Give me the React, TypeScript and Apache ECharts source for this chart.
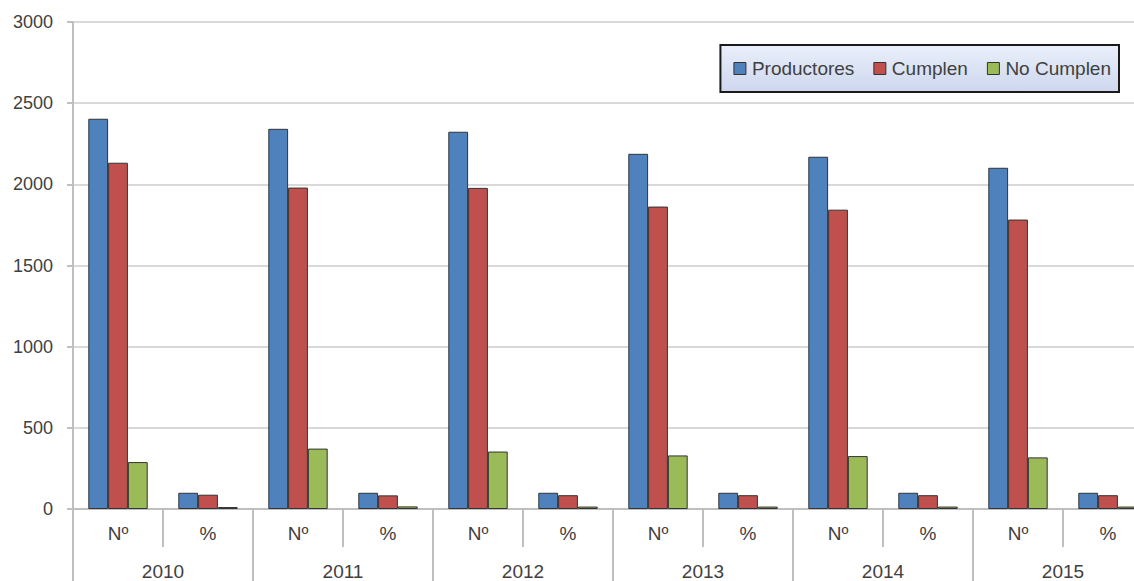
import React, { useEffect, useRef } from "react";
import * as echarts from "echarts";

const categories = ["Nº", "%", "Nº", "%", "Nº", "%", "Nº", "%", "Nº", "%", "Nº", "%"];
const years = ["2010", "2011", "2012", "2013", "2014", "2015"];
const productores = [2404, 100, 2342, 100, 2324, 100, 2188, 100, 2170, 100, 2102, 100];
const cumplen = [2133, 88, 1980, 84, 1978, 85, 1863, 85, 1844, 85, 1783, 85];
const noCumplen = [289, 12, 372, 16, 354, 15, 330, 15, 326, 15, 318, 15];
const yTicks = { min: 0, max: 3000, interval: 500 };

const FONT = "'Liberation Sans', Arial, sans-serif";
const GREY = "#bfbfbf";
const TXT = "#404040";

export default function App() {
  const ref = useRef<HTMLDivElement>(null);
  useEffect(() => {
    if (!ref.current) return;
    const chart = echarts.init(ref.current, undefined, { renderer: "svg" });
    const mk = (name: string, data: number[], color: string) => ({
      name,
      type: "bar",
      data,
      xAxisIndex: 0,
      barGap: "0%",
      barCategoryGap: "34%",
      itemStyle: { color, borderColor: "#333", borderWidth: 1 },
    });
    chart.setOption({
      animation: false,
      textStyle: { fontFamily: FONT },
      grid: { left: 73, right: 7, top: 22, bottom: 71 },
      legend: {
        right: 41,
        top: 45,
        padding: [14, 8, 14, 13],
        itemWidth: 12,
        itemHeight: 12,
        itemGap: 19,
        icon: "rect",
        backgroundColor: new echarts.graphic.LinearGradient(0, 0, 0, 1, [
          { offset: 0, color: "#eaeffa" },
          { offset: 1, color: "#cdd7ee" },
        ]),
        borderColor: "#1a1a1a",
        borderWidth: 2,
        textStyle: { fontSize: 19, color: TXT, fontFamily: FONT, padding: [0, 0, 0, 1] },
        itemStyle: { borderColor: "#333", borderWidth: 1 },
        data: ["Productores", "Cumplen", "No Cumplen"],
      },
      xAxis: [
        {
          type: "category",
          data: categories,
          position: "bottom",
          axisLine: { show: true, lineStyle: { color: GREY, width: 2 } },
          axisTick: { show: true, interval: 0, length: 38, lineStyle: { color: GREY, width: 2 } },
          axisLabel: { interval: 0, margin: 15, fontSize: 19, color: TXT, fontFamily: FONT },
        },
        {
          type: "category",
          data: years,
          position: "bottom",
          axisLine: { show: false },
          axisTick: { show: true, interval: 0, length: 72, lineStyle: { color: GREY, width: 2 } },
          axisLabel: { interval: 0, margin: 53, fontSize: 19, color: TXT, fontFamily: FONT },
        },
      ],
      yAxis: {
        type: "value",
        min: yTicks.min,
        max: yTicks.max,
        interval: yTicks.interval,
        axisLine: { show: true, lineStyle: { color: GREY, width: 2 } },
        axisTick: { show: true, length: 6, lineStyle: { color: GREY, width: 2 } },
        axisLabel: {
          fontSize: 18,
          color: TXT,
          margin: 20,
          fontFamily: FONT,
          formatter: (v: number) => String(v),
        },
        splitLine: { lineStyle: { color: "#d9d9d9", width: 2 } },
      },
      series: [
        mk("Productores", productores, "#4f81bd"),
        mk("Cumplen", cumplen, "#c0504d"),
        mk("No Cumplen", noCumplen, "#9bbb59"),
      ],
    });
    return () => chart.dispose();
  }, []);
  return (
    <div
      style={{
        position: "absolute",
        left: 0,
        top: 0,
        width: 1134,
        height: 581,
        overflow: "hidden",
        background: "#fff",
      }}
    >
      <div ref={ref} style={{ width: 1160, height: 581 }} />
    </div>
  );
}
